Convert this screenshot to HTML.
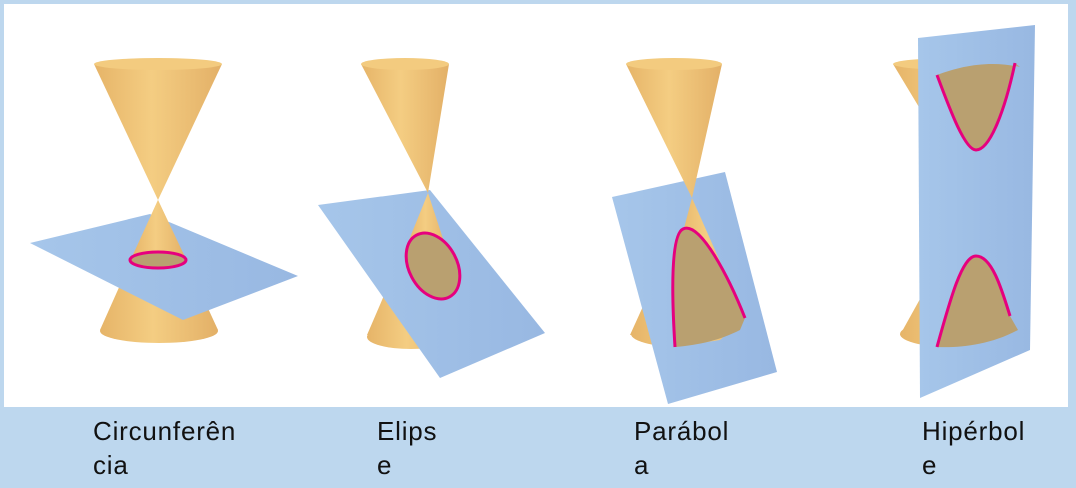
<!DOCTYPE html>
<html><head><meta charset="utf-8"><style>
html,body{margin:0;padding:0;background:#bdd7ee;}
#wrap{position:relative;width:1076px;height:488px;overflow:hidden;font-family:"Liberation Sans","DejaVu Sans",sans-serif;}
.lbl{position:absolute;font-size:26px;letter-spacing:0.8px;color:#111;line-height:34px;}
</style></head><body>
<div id="wrap">
<svg width="1076" height="488" style="position:absolute;left:0;top:0">
<defs>
<linearGradient id="cg" x1="0" x2="1" y1="0" y2="0">
<stop offset="0" stop-color="#e6b468"/><stop offset="0.45" stop-color="#f4cd82"/><stop offset="1" stop-color="#e3b067"/></linearGradient>
<linearGradient id="pg" x1="0" x2="1" y1="0" y2="0">
<stop offset="0" stop-color="#a6c6ea"/><stop offset="1" stop-color="#98b8e2"/></linearGradient>
</defs>
<rect x="4" y="4" width="1064" height="403" fill="#ffffff"/>
<g>
<polygon points="100,330 158,200 218,330" fill="url(#cg)"/>
<ellipse cx="159" cy="331" rx="59" ry="12" fill="url(#cg)"/>
<polygon points="30,243 150,214 298,276 183,320" fill="url(#pg)"/>
<polygon points="131,259 158,200 186,259" fill="url(#cg)"/>
<polygon points="94,64 158,200 222,64" fill="url(#cg)"/>
<ellipse cx="158" cy="64" rx="64" ry="6" fill="#f3cb7f"/>
<ellipse cx="158" cy="260" rx="28" ry="8" fill="#b9a070" stroke="#e6007e" stroke-width="3"/>
</g>
<g>
<polygon points="367,335 428,193 456,340" fill="url(#cg)"/>
<ellipse cx="411" cy="337" rx="44" ry="12" fill="url(#cg)"/>
<polygon points="318,205 430,190 545,333 440,378" fill="url(#pg)"/>
<polygon points="405,250 428,193 450,260" fill="url(#cg)"/>
<polygon points="361,64 428,193 449,64" fill="url(#cg)"/>
<ellipse cx="405" cy="64" rx="44" ry="6" fill="#f3cb7f"/>
<ellipse cx="433" cy="266" rx="24" ry="35" transform="rotate(-28 433 266)" fill="#b9a070" stroke="#e6007e" stroke-width="3"/>
</g>
<g>
<polygon points="630,335 692,198 752,330" fill="url(#cg)"/>
<ellipse cx="691" cy="334" rx="60" ry="14" fill="url(#cg)"/>
<polygon points="612,197 725,172 777,372 668,404" fill="url(#pg)"/>
<polygon points="675,347 683,232 692,198 745,318 720,340" fill="url(#cg)"/>
<path d="M675,347 C672,300 670,235 683,229 C700,220 730,280 745,318 L740,330 C720,340 700,345 675,347Z" fill="#b9a070"/>
<path d="M675,347 C672,300 670,235 683,229 C700,220 730,280 745,318" fill="none" stroke="#e6007e" stroke-width="3"/>
<polygon points="626,64 692,198 722,64" fill="url(#cg)"/>
<ellipse cx="674" cy="64" rx="48" ry="6" fill="#f3cb7f"/>
</g>
<g>
<polygon points="893,64 975,200 1020,64" fill="url(#cg)"/>
<ellipse cx="956" cy="64" rx="63" ry="6" fill="#f3cb7f"/>
<polygon points="900,335 975,200 1018,330" fill="url(#cg)"/>
<ellipse cx="960" cy="334" rx="60" ry="14" fill="url(#cg)"/>
<polygon points="918,38 1035,25 1030,350 920,398" fill="url(#pg)"/>
<path d="M937,75 C950,110 965,150 976,150 C990,150 1005,110 1015,63 L1020,67 C990,60 960,66 937,75Z" fill="#b9a070"/>
<path d="M937,75 C950,110 965,150 976,150 C990,150 1005,110 1015,63" fill="none" stroke="#e6007e" stroke-width="3"/>
<path d="M937,347 C950,300 962,256 976,256 C992,256 1002,290 1010,316 L1018,330 C990,345 960,348 937,347Z" fill="#b9a070"/>
<path d="M937,347 C950,300 962,256 976,256 C992,256 1002,290 1010,316" fill="none" stroke="#e6007e" stroke-width="3"/>
</g>
</svg>
<div class="lbl" style="left:93px;top:414px">Circunferên<br>cia</div>
<div class="lbl" style="left:377px;top:414px">Elips<br>e</div>
<div class="lbl" style="left:634px;top:414px">Parábol<br>a</div>
<div class="lbl" style="left:922px;top:414px">Hipérbol<br>e</div>
</div>
</body></html>
